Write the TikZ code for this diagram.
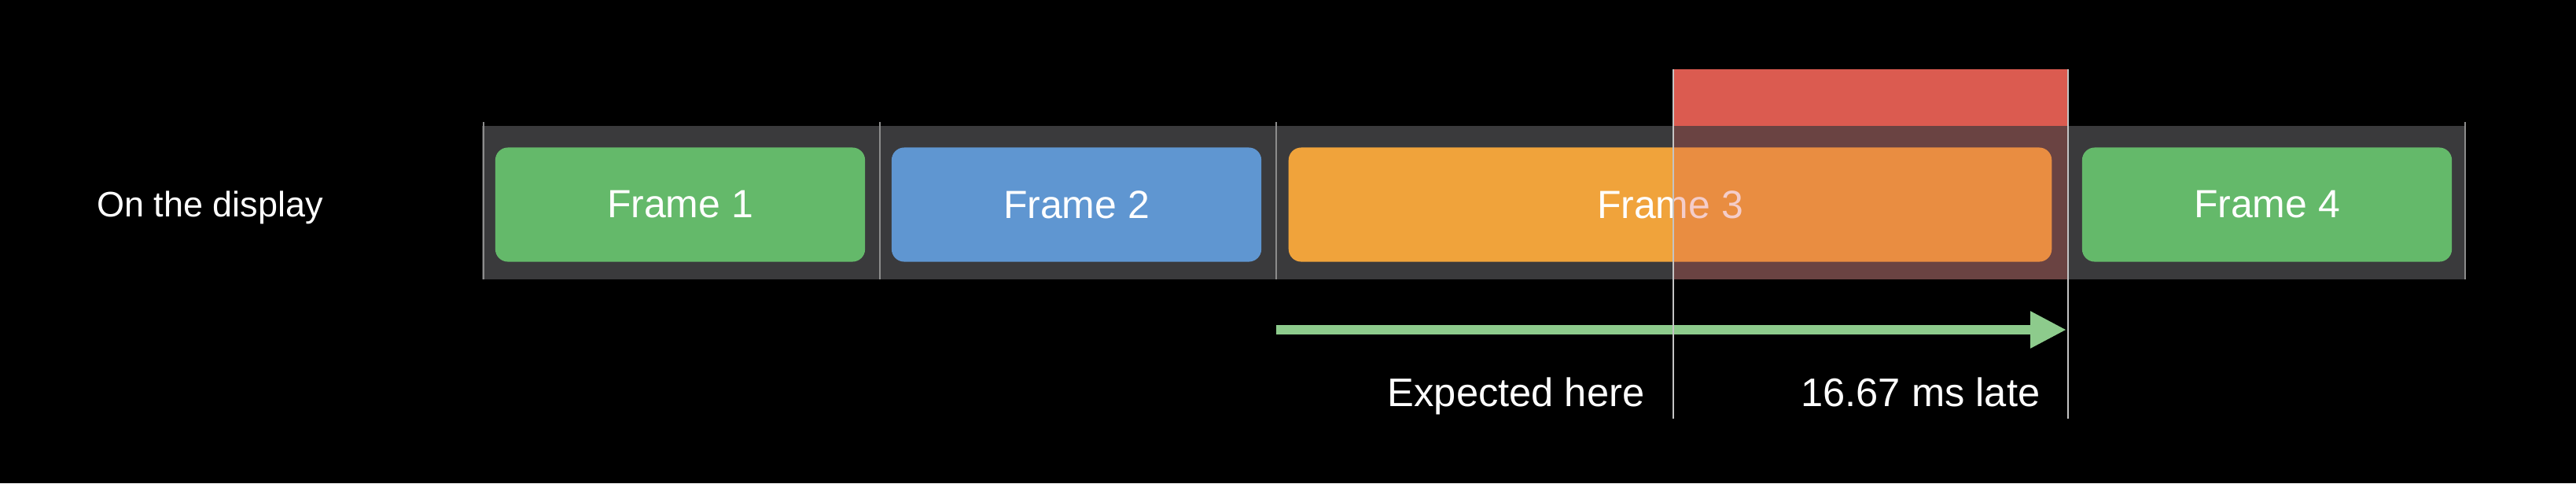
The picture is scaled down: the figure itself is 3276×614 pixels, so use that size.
\documentclass[tikz,border=0pt]{standalone}
\usepackage{fontspec}
\setmainfont{Liberation Sans}
\usetikzlibrary{arrows.meta,positioning}

\definecolor{bandgray}{HTML}{3A3A3C}
\definecolor{framegreen}{HTML}{64B96A}
\definecolor{frameblue}{HTML}{5F96D1}
\definecolor{frameorange}{HTML}{F0A33B}
\definecolor{latered}{HTML}{DB5B50}
\definecolor{arrowgreen}{HTML}{8DCB8C}
\definecolor{tickgray}{HTML}{8C8C8C}
\definecolor{markgray}{HTML}{C4C4C4}

\tikzset{
	slotframe/.style={rounded corners=0.16cm,minimum height=1.45cm,inner sep=0pt,
		text=white,font=\fontsize{14.2}{17}\selectfont},
	timelabel/.style={text=white,font=\fontsize{14.4}{17}\selectfont,inner sep=0pt,anchor=base east},
}

\begin{document}
\begin{tikzpicture}[x=0.01cm,y=-0.01cm]
	\fill[black] (0,0) rectangle (3276,614);
	\useasboundingbox (0,0) rectangle (3276,614);
	\node[text=white,font=\fontsize{12.8}{15}\selectfont,inner sep=0pt,anchor=base] (row) at (267,275) {On the display};
	\fill[bandgray] (613,160) rectangle (3135,355);
	\foreach \x in {615,1119,1623,3135}
		\draw[tickgray,line width=0.6pt] (\x,155) -- (\x,355);
	\node[slotframe,fill=framegreen,minimum width=4.7cm] (f1) at (865,260) {Frame 1};
	\node[slotframe,fill=frameblue,minimum width=4.7cm] (f2) at (1369,260) {Frame 2};
	\node[slotframe,fill=frameorange,minimum width=9.7cm] (f3) at (2124,260) {Frame 3};
	\node[slotframe,fill=framegreen,minimum width=4.7cm] (f4) at (2883,260) {Frame 4};
	% the late slot
	\fill[latered] (2128,88) rectangle (2630,160);
	\fill[latered,opacity=0.3] (2128,160) rectangle (2630,355);
	\coordinate (due) at (1623,419);
	\coordinate (shown) at (2628,419);
	\draw[arrowgreen,line width=0.12cm,-{Triangle[length=0.46cm,width=0.44cm]}] (due) -- (shown);
	\coordinate (exptop) at (2128,88);
	\coordinate (expbot) at (2128,532);
	\coordinate (latetop) at (2630,88);
	\coordinate (latebot) at (2630,532);
	\draw[markgray,line width=0.6pt] (exptop) -- (expbot) (latetop) -- (latebot);
	\node[timelabel] (expected) at (2092,516) {Expected here};
	\node[timelabel] (late) at (2595,516) {16.67 ms late};
\end{tikzpicture}
\end{document}
